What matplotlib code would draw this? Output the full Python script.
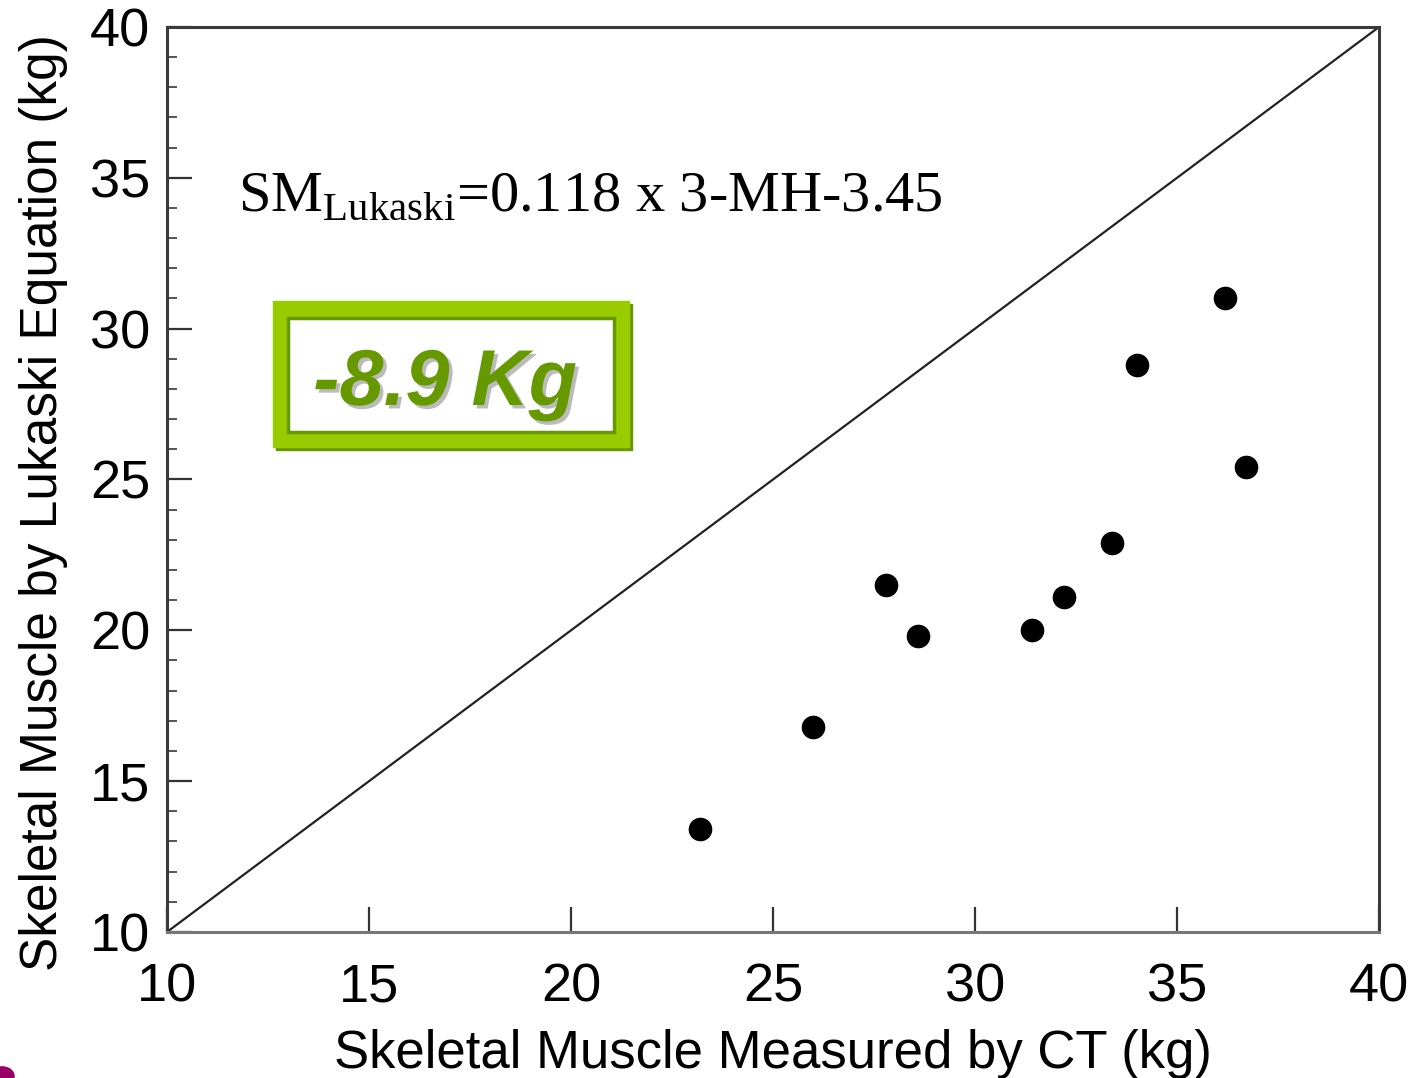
import matplotlib
matplotlib.use('Agg')
import matplotlib.pyplot as plt
import matplotlib.patheffects as pe
from matplotlib.patches import Rectangle, Circle
from matplotlib.ticker import MultipleLocator

# Data
ct_measured = [23.2, 26.0, 27.8, 28.6, 31.4, 32.2, 33.4, 34.0, 36.2, 36.7]
lukaski_est = [13.4, 16.8, 21.5, 19.8, 20.0, 21.1, 22.9, 28.8, 31.0, 25.4]
axis_ticks = [10, 15, 20, 25, 30, 35, 40]
identity = [10, 40]

plt.rcParams['font.family'] = ['Liberation Sans', 'DejaVu Sans']
plt.rcParams['mathtext.fontset'] = 'custom'
plt.rcParams['mathtext.rm'] = 'Liberation Serif'

W, H = 1417, 1078
fig = plt.figure(figsize=(W / 100, H / 100), dpi=100)
ax = fig.add_axes([167 / W, 1 - 932 / H, (1379 - 167) / W, (932 - 27) / H])

ax.plot(identity, identity, color='#222222', lw=1.6)
ax.plot(ct_measured, lukaski_est, 'o', color='black', ms=16, mec='black')

ax.set_xlim(10, 40)
ax.set_ylim(10, 40)
ax.set_xticks(axis_ticks)
ax.set_yticks(axis_ticks)
ax.yaxis.set_minor_locator(MultipleLocator(1))
ax.tick_params(axis='both', which='major', direction='in', length=18, width=1.6,
               color='#333333', labelsize=39)
ax.tick_params(axis='y', which='minor', direction='in', length=7, width=1.4, color='#555555')
ax.tick_params(axis='x', pad=22)
ax.tick_params(axis='y', pad=12)
for s in ax.spines.values():
    s.set_color('#3a3a3a')
    s.set_linewidth(2.2)
ax.spines['bottom'].set_color('#777777')

ax.set_xlabel('Skeletal Muscle Measured by CT (kg)', fontsize=38, labelpad=12)
ax.set_ylabel('Skeletal Muscle by Lukaski Equation (kg)', fontsize=37)
ax.yaxis.set_label_coords(-99 / 1212, (932 - 503) / 905)

# equation
fig.text(238 / W, 1 - 210 / H, r'SM$_{\mathrm{Lukaski}}$=0.118 x 3-MH-3.45',
         family='Liberation Serif', fontsize=42, va='baseline', ha='left')

# green callout box
fig.patches.append(Rectangle((276 / W, 1 - 450 / H), 356 / W, 146 / H,
                             transform=fig.transFigure, color='#669900', zorder=1))
fig.patches.append(Rectangle((273 / W, 1 - 447 / H), 356 / W, 146 / H,
                             transform=fig.transFigure, color='#99CC00', zorder=2))
fig.patches.append(Rectangle((288 / W, 1 - 432 / H), 326 / W, 114 / H,
                             transform=fig.transFigure, facecolor='white',
                             edgecolor='#669900', lw=2.5, zorder=3))
fig.text(445 / W, 1 - 405 / H, '-8.9 Kg', color='#669900', fontsize=57,
         fontweight='bold', fontstyle='italic', ha='center', va='baseline', zorder=4,
         path_effects=[pe.withSimplePatchShadow(offset=(2.5, -2.5), shadow_rgbFace='#bbbbbb', alpha=1)])

# slide bullet remnant at corner
fig.patches.append(Circle((2 / W, 1 - 1076 / H), 12 / W, transform=fig.transFigure,
                          color='#990066'))

fig.savefig('out.png', dpi=100)
